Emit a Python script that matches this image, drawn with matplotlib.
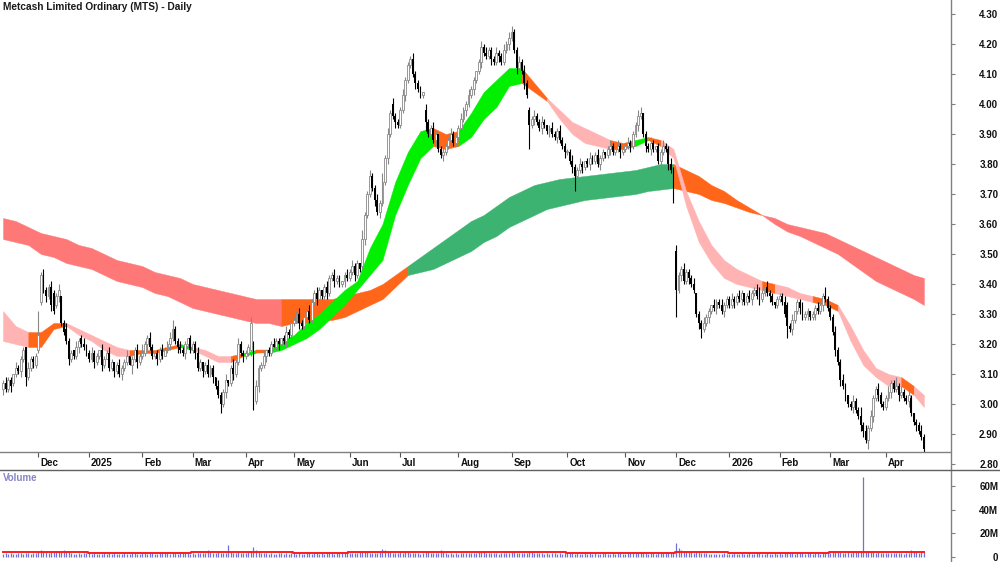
import numpy as np
import matplotlib
matplotlib.use('Agg')
import matplotlib.pyplot as plt
from matplotlib.lines import Line2D
from matplotlib.transforms import blended_transform_factory

plt.rcParams['font.family'] = ['Liberation Sans', 'DejaVu Sans']

title = 'Metcash Limited Ordinary (MTS) - Daily'

# months on the chart and trading days in each (first one is partial)
month_labels = ['', 'Dec', '2025', 'Feb', 'Mar', 'Apr', 'May', 'Jun', 'Jul', 'Aug',
                'Sep', 'Oct', 'Nov', 'Dec', '2026', 'Feb', 'Mar', 'Apr']
month_days = [14, 20, 21, 20, 21, 19, 22, 20, 23, 21, 22, 23, 20, 21, 20, 20, 22, 16]

# daily prices in cents, one row per month
closes_c = [
    307, 305, 308, 306, 310, 312, 311, 315, 318, 309, 312, 315, 314, 316,
    323, 343, 338, 336, 339, 333, 331, 336, 338, 327, 324, 321, 315, 317, 316, 319, 321, 320, 319, 317,
    315, 317, 314, 316, 318, 313, 315, 317, 312, 314, 311, 313, 310, 312, 314, 316, 313, 315, 318, 314, 316,
    317, 320, 322, 319, 316, 317, 315, 318, 316, 318, 320, 322, 325, 321, 319, 318, 317, 320, 322, 318,
    320, 317, 312, 314, 311, 313, 310, 312, 309, 306, 303, 300, 304, 308, 307, 312, 310, 314, 320, 317, 316,
    317, 319, 327, 301, 306, 312, 313, 316, 318, 317, 320, 319, 321, 320, 322, 321, 324, 323, 327,
    328, 330, 327, 326, 329, 331, 328, 334, 337, 335, 338, 336, 339, 337, 342, 343, 341, 342, 340, 341, 343, 342,
    344, 346, 343, 347, 345, 355, 363, 370, 376, 372, 368, 364, 367, 374, 382, 390, 397, 396, 394, 393,
    398, 403, 408, 413, 415, 410, 407, 405, 403, 404, 394, 390, 392, 388, 390, 385, 383, 384, 386, 388, 390, 387, 389,
    392, 395, 398, 400, 403, 405, 408, 411, 414, 419, 417, 416, 418, 415, 414, 417, 416, 414, 418, 420, 422,
    424, 418, 412, 414, 411, 407, 403, 393, 395, 396, 394, 392, 394, 393, 391, 392, 390, 389, 391, 388, 386, 384,
    384, 381, 379, 376, 378, 380, 379, 381, 380, 382, 381, 383, 380, 382, 384, 383, 385, 386, 384, 385, 386, 384, 385,
    386, 387, 386, 390, 393, 396, 397, 390, 386, 385, 387, 385, 386, 381, 384, 386, 385, 380, 378, 372,
    338, 343, 345, 341, 344, 342, 340, 338, 330, 327, 325, 327, 329, 331, 333, 332, 334, 333, 331, 333, 335,
    333, 335, 334, 336, 335, 337, 334, 336, 335, 337, 338, 336, 335, 337, 339, 337, 336, 334, 333, 335,
    336, 334, 330, 326, 325, 328, 331, 334, 332, 329, 330, 331, 329, 330, 332, 331, 333, 336, 335, 332,
    329, 324, 318, 314, 308, 306, 303, 300, 299, 301, 298, 296, 293, 291, 288, 292, 296, 302, 305, 303, 300, 299,
    302, 304, 307, 305, 306, 303, 304, 302, 301, 303, 297, 294, 293, 291, 289, 285,
]
opens_c = [
    305, 307, 305, 308, 307, 310, 312, 311, 315, 319, 309, 312, 315, 313,
    318, 334, 343, 338, 336, 339, 337, 333, 336, 336, 327, 325, 321, 315, 318, 316, 319, 322, 320, 319,
    317, 315, 317, 314, 316, 318, 313, 315, 317, 312, 314, 311, 313, 310, 312, 314, 316, 313, 315, 318, 314,
    316, 317, 320, 322, 319, 316, 317, 315, 318, 316, 318, 320, 322, 325, 321, 319, 318, 317, 320, 322,
    318, 320, 317, 312, 314, 311, 313, 310, 312, 309, 306, 303, 300, 304, 308, 307, 312, 310, 314, 320, 317,
    316, 317, 318, 320, 301, 306, 312, 313, 316, 318, 317, 320, 319, 321, 320, 322, 321, 324, 323,
    327, 328, 330, 327, 326, 329, 331, 328, 334, 337, 335, 338, 336, 339, 337, 342, 343, 341, 342, 340, 341, 343,
    342, 344, 346, 343, 347, 346, 355, 363, 370, 376, 372, 368, 364, 367, 374, 382, 390, 400, 396, 394,
    393, 398, 403, 408, 413, 415, 410, 407, 405, 403, 398, 394, 390, 392, 388, 390, 385, 383, 384, 386, 388, 390, 387,
    389, 392, 395, 398, 400, 403, 405, 408, 411, 414, 419, 417, 416, 418, 415, 414, 417, 416, 414, 418, 420,
    422, 424, 418, 412, 414, 411, 407, 398, 393, 395, 396, 394, 392, 394, 393, 391, 392, 390, 389, 391, 388, 386,
    384, 384, 381, 379, 376, 378, 380, 379, 381, 380, 382, 381, 383, 380, 382, 384, 383, 385, 386, 384, 385, 386, 384,
    385, 386, 387, 386, 390, 393, 396, 397, 390, 386, 385, 387, 385, 386, 381, 384, 386, 385, 380, 378,
    351, 338, 343, 345, 341, 344, 342, 340, 337, 330, 327, 325, 327, 329, 331, 333, 332, 334, 333, 331, 333,
    335, 333, 335, 334, 336, 335, 337, 334, 336, 335, 337, 338, 336, 335, 337, 339, 337, 336, 334, 333,
    335, 336, 334, 333, 326, 325, 328, 331, 334, 332, 329, 330, 331, 329, 330, 332, 331, 333, 336, 335,
    332, 329, 324, 318, 314, 308, 306, 303, 300, 299, 301, 298, 296, 293, 291, 288, 292, 296, 302, 305, 303, 300,
    299, 302, 304, 307, 305, 306, 303, 304, 302, 301, 302, 297, 294, 293, 291, 289,
]
# wick lengths above / below the body, cents, one digit per day
wick_up = ("12110211102111" "81211211201211021121" "121102112101211201121" "31121011211231121101"
           "112101211021120131211" "1121211201121101211" "1121012112101211211012" "12110311211213121211"
           "12111211102112101211211" "121121101212111211212" "2112121112112101211211" "11211210121121101211211"
           "12111220112101121121" "211211120112110211211" "12112101211231121101" "11211201121101121131"
           "1121121012113121211211" "1211312112101121")
wick_dn = ("21121112131121" "11121211211121112111" "112112101121121103121" "11211121101211211211"
           "121121112113121121112" "1123121121101211211" "1121121112111211211121" "11211121112121121121"
           "11211121113121211211211" "111211211211121121112" "1121121812112112112112" "11251121121112111211121"
           "11211211212111211215" "912112111231121121121" "11211211121121112111" "11141211211211211211"
           "1121212112112213121211" "1121121112112111")

# daily volume, units of 0.1M
volume_d = [
    28, 31, 26, 34, 29, 25, 33, 30, 27, 36, 32, 29, 31, 35,
    42, 62, 48, 40, 36, 38, 45, 52, 40, 44, 55, 48, 38, 35, 22, 24, 30, 27, 33, 36,
    30, 27, 31, 28, 25, 29, 33, 26, 30, 28, 32, 27, 29, 24, 31, 28, 26, 33, 30, 27, 29,
    31, 35, 28, 33, 30, 26, 29, 32, 38, 34, 30, 27, 36, 31, 29, 42, 45, 33, 30, 28,
    32, 29, 34, 36, 31, 30, 60, 38, 33, 35, 40, 37, 34, 36, 100, 45, 31, 33, 38, 35, 32,
    34, 38, 50, 82, 55, 41, 36, 33, 30, 28, 31, 29, 27, 32, 30, 28, 33, 29, 31,
    30, 27, 33, 29, 26, 31, 35, 28, 32, 30, 27, 34, 29, 31, 36, 30, 28, 33, 35, 31, 38, 50,
    36, 33, 30, 34, 38, 48, 44, 40, 36, 33, 31, 35, 42, 70, 55, 46, 40, 37, 34, 32,
    38, 35, 42, 40, 37, 33, 30, 32, 29, 31, 44, 39, 35, 33, 30, 34, 60, 38, 32, 29, 31, 28, 30,
    29, 32, 35, 31, 30, 33, 36, 34, 38, 40, 50, 37, 34, 31, 33, 30, 28, 32, 35, 33, 37,
    40, 38, 36, 33, 35, 31, 34, 44, 50, 37, 33, 30, 32, 29, 31, 28, 33, 30, 27, 31, 29, 32,
    30, 33, 35, 28, 31, 27, 29, 32, 26, 30, 28, 31, 27, 29, 33, 30, 26, 28, 31, 29, 40, 30, 28,
    29, 31, 35, 38, 33, 36, 42, 34, 31, 29, 32, 30, 28, 31, 33, 30, 34, 36, 40, 45,
    120, 80, 62, 48, 44, 40, 38, 35, 45, 42, 36, 33, 31, 29, 27, 25, 22, 24, 28, 30, 27,
    26, 29, 31, 28, 25, 30, 27, 29, 32, 28, 26, 30, 33, 29, 27, 31, 28, 26, 30, 29,
    30, 28, 32, 40, 35, 31, 29, 33, 36, 30, 28, 31, 34, 29, 30, 32, 28, 31, 38, 35,
    34, 38, 42, 45, 40, 37, 35, 39, 36, 41, 38, 44, 48, 680, 52, 45, 40, 38, 36, 41, 37, 35,
    33, 36, 31, 34, 30, 32, 35, 29, 33, 31, 60, 42, 38, 36, 40, 45,
]
# volume average line, millions, one level per month
vol_avg_month = [3.8, 4.6, 3.3, 3.5, 4.0, 4.0, 3.6, 4.1, 4.0, 4.0, 3.9, 3.5, 3.7, 4.4, 3.3, 3.7, 4.3, 4.6]

# trend bands, read every 5th bar (and the last bar)
band_step = 5
short_hi = [3.31, 3.26, 3.24, 3.24, 3.27, 3.27, 3.25, 3.23, 3.21, 3.19,
            3.18, 3.18, 3.18, 3.19, 3.20, 3.19, 3.18, 3.16, 3.16, 3.17,
            3.18, 3.18, 3.21, 3.23, 3.27, 3.30, 3.34, 3.38, 3.41, 3.52,
            3.60, 3.74, 3.84, 3.91, 3.92, 3.90, 3.91, 3.97, 4.04, 4.08,
            4.12, 4.12, 4.07, 4.02, 3.98, 3.94, 3.92, 3.90, 3.88, 3.87,
            3.88, 3.89, 3.88, 3.85, 3.71, 3.61, 3.53, 3.48, 3.45, 3.43,
            3.41, 3.40, 3.39, 3.37, 3.36, 3.35, 3.33, 3.26, 3.18, 3.12,
            3.10, 3.09, 3.06, 3.03]
short_lo = [3.21, 3.20, 3.19, 3.19, 3.25, 3.26, 3.23, 3.21, 3.18, 3.16,
            3.16, 3.17, 3.17, 3.18, 3.19, 3.18, 3.16, 3.14, 3.14, 3.16,
            3.17, 3.17, 3.18, 3.20, 3.22, 3.25, 3.29, 3.33, 3.38, 3.43,
            3.48, 3.63, 3.73, 3.82, 3.86, 3.85, 3.86, 3.89, 3.95, 3.99,
            4.06, 4.07, 4.04, 4.01, 3.95, 3.90, 3.87, 3.86, 3.85, 3.85,
            3.86, 3.88, 3.86, 3.82, 3.66, 3.54, 3.47, 3.42, 3.40, 3.39,
            3.38, 3.37, 3.36, 3.35, 3.34, 3.33, 3.31, 3.21, 3.13, 3.09,
            3.06, 3.06, 3.03, 2.99]
long_hi = [3.62, 3.61, 3.59, 3.57, 3.56, 3.55, 3.53, 3.52, 3.50, 3.48,
           3.47, 3.46, 3.44, 3.43, 3.42, 3.40, 3.39, 3.38, 3.37, 3.36,
           3.35, 3.35, 3.35, 3.35, 3.35, 3.35, 3.35, 3.36, 3.37, 3.38,
           3.40, 3.43, 3.46, 3.49, 3.52, 3.55, 3.58, 3.61, 3.63, 3.66,
           3.69, 3.71, 3.73, 3.74, 3.75, 3.755, 3.76, 3.765, 3.77, 3.775,
           3.78, 3.79, 3.80, 3.80, 3.78, 3.76, 3.73, 3.71, 3.68, 3.655,
           3.63, 3.62, 3.60, 3.59, 3.58, 3.57, 3.55, 3.53, 3.51, 3.49,
           3.47, 3.45, 3.43, 3.42]
long_lo = [3.55, 3.54, 3.53, 3.50, 3.49, 3.47, 3.46, 3.45, 3.43, 3.41,
           3.40, 3.39, 3.37, 3.36, 3.34, 3.32, 3.31, 3.30, 3.29, 3.28,
           3.27, 3.27, 3.26, 3.27, 3.27, 3.28, 3.28, 3.29, 3.31, 3.33,
           3.35, 3.39, 3.43, 3.44, 3.45, 3.47, 3.49, 3.51, 3.54, 3.56,
           3.59, 3.61, 3.63, 3.65, 3.66, 3.67, 3.68, 3.685, 3.69, 3.695,
           3.70, 3.71, 3.715, 3.72, 3.71, 3.70, 3.68, 3.67, 3.655, 3.64,
           3.63, 3.60, 3.575, 3.56, 3.54, 3.52, 3.50, 3.47, 3.44, 3.41,
           3.39, 3.37, 3.35, 3.33]
# band colour between two samples: G rising, P/R falling, O mixed
short_state = ("PP" "OOO" "PPPPP" "OOOO" "G" "PPP" "O" "G" "O" "GGGGGGGGGG" "GGG" "OO" "GGGGG"
               "OO" "PPPPP" "OO" "G" "O" "PPPPPPPP" "O" "PPP" "OO" "PPPP" "PO" "P")
long_state = ("RRRRRRRRRR" "RRRRRRRRRR" "RR" "OOOOOOOOOO" "GGGGGGGGGG" "GGGGGGGGGG" "G"
              "OOOOOOO" "RRRRRRRRRR" "RRR")

short_cols = {'P': '#ffb3b3', 'G': '#00f000', 'O': '#ff661a'}
long_cols = {'R': '#ff7878', 'G': '#3cb371', 'O': '#ff661a'}


def draw_band(ax, xs, hi, lo, states, cols, z):
    #fill consecutive intervals with the same state in one go
    start = 0
    for k in range(1, len(states) + 1):
        if k == len(states) or states[k] != states[start]:
            sl = slice(start, k + 1)
            ax.fill_between(xs[sl], lo[sl], hi[sl], color=cols[states[start]],
                            lw=0.3, zorder=z)
            start = k


c = np.array(closes_c) / 100.
o = np.array(opens_c) / 100.
up_w = np.array([int(ch) for ch in wick_up]) / 100.
dn_w = np.array([int(ch) for ch in wick_dn]) / 100.
hi = np.maximum(o, c) + up_w
lo = np.minimum(o, c) - dn_w
vol = np.array(volume_d) / 10.
n = len(c)
x = np.arange(n)
vol_avg = np.repeat(vol_avg_month, month_days)
month_start = np.concatenate([[0], np.cumsum(month_days)[:-1]])

band_x = np.append(np.arange(0, n - 1, band_step), n - 1)

#figure geometry in pixels
W, H = 1000., 562.
px_bar = 2.53
fig = plt.figure(figsize=(W / 100, H / 100), dpi=100)
ax = fig.add_axes([0, 92 / H, 951 / W, 470 / H])
axv = fig.add_axes([0, 0, 951 / W, 92 / H])

for a in (ax, axv):
    a.set_xlim(-3 / px_bar, 948 / px_bar)
    for s in ('top', 'left', 'bottom'):
        a.spines[s].set_visible(False)
    a.spines['right'].set_color('#808080')
    a.spines['right'].set_linewidth(1.0)
    a.set_xticks([])
    a.yaxis.tick_right()
    a.tick_params(axis='y', direction='out', length=3, width=0.8, color='#808080',
                  pad=31, labelsize=7)

#price panel
ax.set_ylim(2.78, 4.3467)
pticks = np.round(np.arange(2.8, 4.31, 0.1), 2)
ax.set_yticks(pticks)
ax.set_yticklabels(['%.2f' % t for t in pticks], fontweight='bold', ha='right', color='#111111')

draw_band(ax, band_x, np.array(long_hi), np.array(long_lo), long_state, long_cols, 1)
draw_band(ax, band_x, np.array(short_hi), np.array(short_lo), short_state, short_cols, 2)

rise = c >= o
body = np.maximum(np.abs(c - o), 0.003)
bottom = np.minimum(o, c)
ax.vlines(x[rise], lo[rise], hi[rise], color='#888888', lw=0.8, zorder=3)
ax.vlines(x[~rise], lo[~rise], hi[~rise], color='black', lw=0.8, zorder=3)
ax.bar(x[rise], body[rise], bottom=bottom[rise], width=0.75, facecolor='white',
       edgecolor='#888888', lw=0.6, zorder=4)
ax.bar(x[~rise], body[~rise], bottom=bottom[~rise], width=0.75, color='black', lw=0, zorder=4)

#date strip at the foot of the price panel
bt = blended_transform_factory(ax.transData, ax.transAxes)
ax.plot([0, 1], [18 / 470, 18 / 470], transform=ax.transAxes, color='#808080', lw=1.0, zorder=5)
for ms, lab in zip(month_start, month_labels):
    if not lab:
        continue
    ax.vlines(ms, 13 / 470, 18 / 470, transform=bt, color='#555555', lw=0.8)
    ax.text(ms + 0.8, 7 / 470, lab, transform=bt, ha='left', va='center',
            fontsize=7, fontweight='bold', color='#111111')

#volume panel, 0 sits 5px above the bottom edge
axv.set_ylim(-4.3, 74.0)
vticks = [0, 20, 40, 60]
axv.set_yticks(vticks)
axv.set_yticklabels(['0', '20M', '40M', '60M'], fontweight='bold', ha='right', color='#111111')
axv.vlines(x, 0, vol, color='#7070d8', lw=0.9)
axv.plot(x, vol_avg, color='#ff1a1a', lw=1.4, drawstyle='steps-mid')
axv.text(0.003, (562 - 478) / 92, 'Volume', transform=axv.transAxes, ha='left', va='center',
         fontsize=7, fontweight='bold', color='#8585c8')

fig.add_artist(Line2D([0, 1], [92 / H, 92 / H], transform=fig.transFigure, color='#606060', lw=1.0))
fig.text(3 / W, 1 - 2 / H, title, ha='left', va='top', fontsize=7.3, fontweight='bold', color='#1a1a1a')

fig.savefig('out.png', dpi=100)
